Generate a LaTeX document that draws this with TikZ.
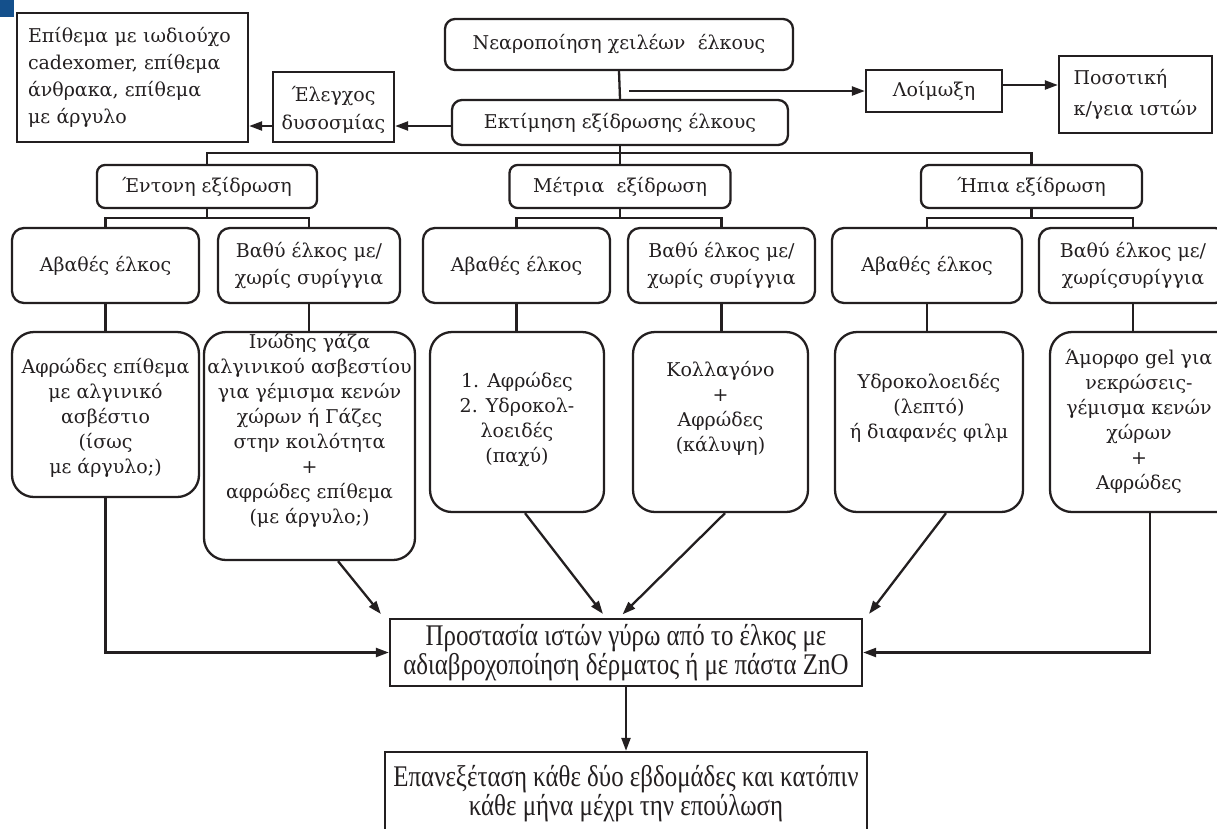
\documentclass[tikz,border=0pt]{standalone}
\usepackage{fontspec}
\setmainfont{DejaVu Serif}
\newfontfamily\condfont[FakeStretch=0.83]{Liberation Serif}
\usetikzlibrary{arrows.meta,calc}
\definecolor{cornerblue}{RGB}{20,80,140}
\definecolor{inkc}{RGB}{35,31,32}
\newcommand\fbig{\fontsize{19}{25}\selectfont}
\newcommand\fmid{\fontsize{19}{27}\selectfont}
\newcommand\fbot{\condfont\fontsize{30}{29}\selectfont}
\tikzset{
  sqbox/.style={draw=inkc, line width=2.3pt, inner sep=0pt, align=center, font=\fmid, text=inkc},
  rbox/.style={draw=inkc, line width=2.3pt, rounded corners=#1, inner sep=0pt, align=center, font=\fmid, text=inkc},
  txt/.style={inner sep=0pt, align=center, font=\fbig, text=inkc},
  ln/.style={draw=inkc, line width=2.3pt},
  arr/.style={draw=inkc, line width=2.3pt, -{Triangle[length=13pt,width=9pt]}},
}
\begin{document}
\begin{tikzpicture}[x=1pt,y=-1pt]
\useasboundingbox (0,0) rectangle (1217,828);
\clip (0,0) rectangle (1217,828);
\fill[cornerblue] (0,0) rectangle (14,17);

% top row
\node[sqbox, text width=209pt, inner xsep=11pt, minimum height=129pt, align=left] (dress) at (132.5,77.5)
  {Επίθεμα με ιωδιούχο\\cadexomer, επίθεμα\\άνθρακα, επίθεμα\\με άργυλο};
\node[sqbox, minimum width=121pt, minimum height=70pt] (odour) at (333.5,107) {};
\node[txt, font=\fontsize{19}{28}\selectfont] (odourt) at (333.5,110) {Έλεγχος\\δυσοσμίας};
\node[rbox=10pt, minimum width=348pt, minimum height=51pt] (nea) at (619,44.5) {Νεαροποίηση χειλέων\hspace{0.65em}έλκους};
\node[rbox=10pt, minimum width=336pt, minimum height=45pt] (est) at (620,122.5) {Εκτίμηση εξίδρωσης έλκους};
\node[sqbox, minimum width=136pt, minimum height=42pt] (inf) at (934,91) {Λοίμωξη};
\node[sqbox, minimum width=153pt, minimum height=77pt, align=left, font=\fontsize{19}{31}\selectfont] (quant) at (1135.5,94.5) {Ποσοτική\\κ/γεια ιστών};

\draw[ln] (nea.south) -- (est.north);
\draw[arr] (inf.west -| 629,0) -- (inf.west);
\draw[arr] (inf.east |- 0,85) -- (quant.west |- 0,85);
\draw[arr] (est.west |- 0,126) -- (odour.east |- 0,126);
\draw[arr] (odour.west |- 0,126) -- (dress.east |- 0,126);

% exudate level
\node[rbox=8pt, minimum width=220pt, minimum height=43pt] (sev) at (207,186.5) {Έντονη εξίδρωση};
\node[rbox=8pt, minimum width=221pt, minimum height=43pt] (mod) at (620,186.5) {Μέτρια\hspace{0.65em}εξίδρωση};
\node[rbox=8pt, minimum width=221pt, minimum height=43pt] (mild) at (1031.5,186.5) {Ήπια εξίδρωση};

\draw[ln] (est.south) -- (mod.north);
\draw[ln] (sev.north) |- (0,153 -| mild.north) -- (mild.north);

% depth level
\node[rbox=12pt, minimum width=187pt, minimum height=75pt] (a1) at (105.5,265.5) {Αβαθές έλκος};
\node[rbox=12pt, minimum width=182pt, minimum height=75pt] (b1) at (309,265.5) {Βαθύ έλκος με/\\χωρίς συρίγγια};
\node[rbox=12pt, minimum width=187pt, minimum height=75pt] (a2) at (516.5,265.5) {Αβαθές έλκος};
\node[rbox=12pt, minimum width=187pt, minimum height=75pt] (b2) at (721.5,265.5) {Βαθύ έλκος με/\\χωρίς συρίγγια};
\node[rbox=12pt, minimum width=190pt, minimum height=75pt] (a3) at (927,265.5) {Αβαθές έλκος};
\node[rbox=12pt, minimum width=188pt, minimum height=75pt] (b3) at (1133,265.5) {Βαθύ έλκος με/\\χωρίςσυρίγγια};

\draw[ln] (sev.south) -- (sev.south |- 0,218);
\draw[ln] (a1.north) |- (0,218 -| b1.north) -- (b1.north);
\draw[ln] (mod.south) -- (mod.south |- 0,218);
\draw[ln] (a2.north) |- (0,218 -| b2.north) -- (b2.north);
\draw[ln] (mild.south) -- (mild.south |- 0,218);
\draw[ln] (a3.north) |- (0,218 -| b3.north) -- (b3.north);

% dressing level
\node[rbox=22pt, minimum width=187pt, minimum height=165pt] (c1) at (105.5,414.5) {};
\node[rbox=22pt, minimum width=211pt, minimum height=228pt] (c2) at (309.5,446) {};
\node[rbox=22pt, minimum width=174pt, minimum height=180pt] (c3) at (517,422) {};
\node[rbox=22pt, minimum width=175pt, minimum height=180pt] (c4) at (720.5,422) {};
\node[rbox=22pt, minimum width=188pt, minimum height=180pt] (c5) at (929,422) {};
\node[rbox=22pt, minimum width=200pt, minimum height=180pt] (c6) at (1150,422) {};

\node[txt] (t1) at (105.5,418) {Αφρώδες επίθεμα\\με αλγινικό\\ασβέστιο\\(ίσως\\με άργυλο;)};
\node[txt] (t2) at (309.5,430) {Ινώδης γάζα\\αλγινικού ασβεστίου\\για γέμισμα κενών\\χώρων ή Γάζες\\στην κοιλότητα\\+\\αφρώδες επίθεμα\\(με άργυλο;)};
\node[txt] (t3) at (517,420) {1. Αφρώδες\\2. Υδροκολ-\\λοειδές\\(παχύ)};
\node[txt] (t4) at (720.5,408) {Κολλαγόνο\\+\\Αφρώδες\\(κάλυψη)};
\node[txt] (t5) at (929,408) {Υδροκολοειδές\\(λεπτό)\\ή διαφανές φιλμ};
\node[txt] (t6) at (1139,421) {Άμορφο gel για\\νεκρώσεις-\\γέμισμα κενών\\χώρων\\+\\Αφρώδες};

\draw[ln] (a1.south) -- (a1.south |- c1.north);
\draw[ln] (b1.south) -- (b1.south |- c2.north);
\draw[ln] (a2.south) -- (a2.south |- c3.north);
\draw[ln] (b2.south) -- (b2.south |- c4.north);
\draw[ln] (a3.south) -- (a3.south |- c5.north);
\draw[ln] (b3.south) -- (b3.south |- c6.north);

% bottom
\node[sqbox, minimum width=472pt, minimum height=67pt, font=\fbot] (prot) at (626,652.5)
  {Προστασία ιστών γύρω από το έλκος με\\αδιαβροχοποίηση δέρματος ή με πάστα ZnO};
\node[sqbox, minimum width=482pt, minimum height=83pt, font=\fbot] (epan) at (626,793.5)
  {Επανεξέταση κάθε δύο εβδομάδες και κατόπιν\\κάθε μήνα μέχρι την επούλωση};

\draw[arr] (c1.south) |- (prot.west);
\draw[arr] (c6.south) |- (prot.east);
\draw[arr, shorten >=5pt] (c2.south -| 338,0) -- (prot.north -| 384,0);
\draw[arr, shorten >=5pt] (c3.south -| 525,0) -- (prot.north -| 606,0);
\draw[arr, shorten >=5pt] (c4.south -| 725,0) -- (prot.north -| 619,0);
\draw[arr, shorten >=5pt] (c5.south -| 946,0) -- (prot.north -| 866,0);
\draw[arr] (prot.south) -- (epan.north);
\end{tikzpicture}
\end{document}
